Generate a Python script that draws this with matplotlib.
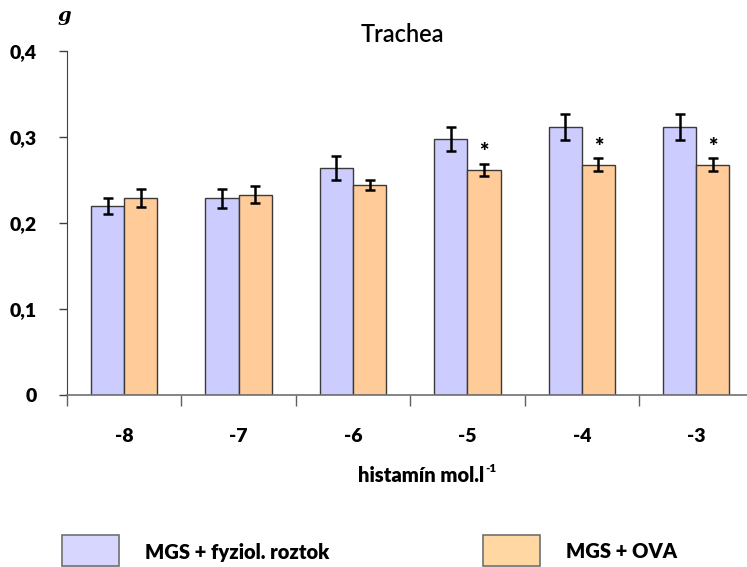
import matplotlib
matplotlib.use("Agg")
import matplotlib.pyplot as plt
from matplotlib import font_manager as fm
from matplotlib.patches import Rectangle
import numpy as np

# pick a humanist sans that ships a real bold face
def pick_family(candidates):
    for fam in candidates:
        weights = [f.weight for f in fm.fontManager.ttflist if f.name == fam]
        if any((w if isinstance(w, int) else 700 if w == 'bold' else 400) >= 700 for w in weights):
            return fam
    return 'DejaVu Sans'

FAM = pick_family(['Lato', 'Open Sans', 'Noto Sans', 'Liberation Sans'])
plt.rcParams['font.family'] = [FAM, 'DejaVu Sans']
BOLD = 'heavy'

# Histamine concentration (log mol/l) and organ weights (g)
categories = ['-8', '-7', '-6', '-5', '-4', '-3']
saline_mean = [0.220, 0.229, 0.264, 0.298, 0.312, 0.312]
saline_err = [0.009, 0.011, 0.014, 0.014, 0.015, 0.015]
ova_mean = [0.229, 0.233, 0.244, 0.262, 0.268, 0.268]
ova_err = [0.010, 0.010, 0.006, 0.007, 0.007, 0.007]
significant = [False, False, False, True, True, True]
series_labels = ['MGS + fyziol. roztok', 'MGS + OVA']
y_ticks = [0, 0.1, 0.2, 0.3, 0.4]
y_tick_labels = ['0', '0,1', '0,2', '0,3', '0,4']

W, H = 747, 567
fig = plt.figure(figsize=(W / 100, H / 100), dpi=100)
ax = fig.add_axes([67 / W, (H - 395) / H, 686.4 / W, 344 / H])

x = np.arange(len(categories))
bw = 0.29
blue, orange = '#CCCCFF', '#FFCC99'
edge = '#3a3a3a'

ax.bar(x - bw / 2, saline_mean, bw, color=blue, edgecolor=edge, linewidth=1.0, zorder=2)
ax.bar(x + bw / 2, ova_mean, bw, color=orange, edgecolor=edge, linewidth=1.0, zorder=2)
ek = dict(fmt='none', ecolor='black', elinewidth=1.8, capsize=3.4, capthick=1.8, zorder=3)
ax.errorbar(x - bw / 2, saline_mean, yerr=saline_err, **ek)
ax.errorbar(x + bw / 2, ova_mean, yerr=ova_err, **ek)

for i, sig in enumerate(significant):
    if sig:
        ax.text(x[i] + bw / 2, ova_mean[i] + ova_err[i] + 0.013, '*',
                ha='center', va='center', fontsize=16, fontweight=BOLD)

ax.set_xlim(-0.5, len(categories) - 0.5)
ax.set_ylim(0, 0.4)
ax.set_yticks(y_ticks)
ax.set_yticklabels(y_tick_labels, fontsize=14, fontweight=BOLD)
ax.set_xticks(x)
ax.set_xticklabels(categories, fontsize=14, fontweight=BOLD)
ax.tick_params(axis='x', length=0, pad=24)
ax.tick_params(axis='y', length=6, width=1, color='#404040', pad=16)
ax.set_xticks(np.arange(len(categories)) - 0.5, minor=True)
ax.tick_params(axis='x', which='minor', length=8, width=1, color='#606060')

for s in ['top', 'right']:
    ax.spines[s].set_visible(False)
ax.spines['left'].set_color('#404040')
ax.spines['bottom'].set_color('#707070')
ax.spines['bottom'].set_linewidth(1.2)

fig.text(402 / W, 1 - 34 / H, 'Trachea', ha='center', va='center', fontsize=17, fontweight='semibold')
fig.text(64 / W, 1 - 16 / H, 'g', ha='center', va='center', fontsize=14,
         fontweight='bold', family=['DejaVu Serif'], style='italic')
fig.text(484 / W, 1 - 476 / H, 'histamín mol.l', ha='right', va='center',
         fontsize=14.5, fontweight=BOLD)
fig.text(485 / W, 1 - 469 / H, '-1', ha='left', va='center', fontsize=8.5, fontweight=BOLD)

# legend keys
for (x0, lab, col) in [(62, series_labels[0], '#D6D6FF'), (483, series_labels[1], '#FFD7A3')]:
    fig.patches.append(Rectangle((x0 / W, 1 - 566 / H), 57 / W, 31 / H, transform=fig.transFigure,
                                 facecolor=col, edgecolor='#707070', linewidth=1.2))
    fig.text((x0 + 83) / W, 1 - 552 / H, lab, ha='left', va='center', fontsize=14.5, fontweight=BOLD)

fig.savefig('out.png', dpi=100)
